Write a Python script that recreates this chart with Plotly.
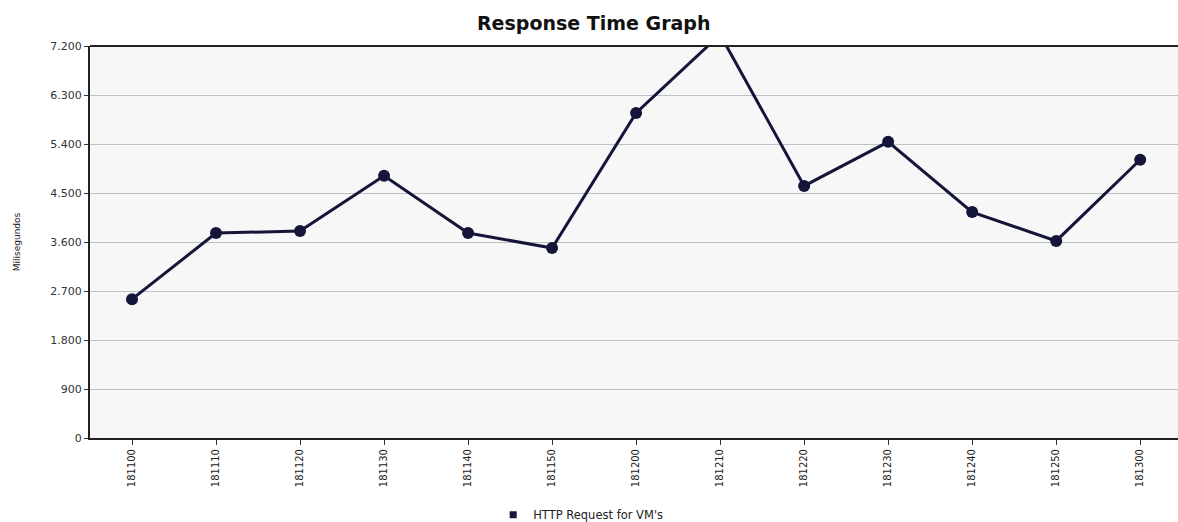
import plotly.graph_objects as go

categories = ["181100", "181110", "181120", "181130", "181140", "181150", "181200",
              "181210", "181220", "181230", "181240", "181250", "181300"]
response_ms = [2550, 3765, 3800, 4815, 3765, 3490, 5970, 7410, 4630, 5440, 4150, 3620, 5110]
y_tick_vals = [0, 900, 1800, 2700, 3600, 4500, 5400, 6300, 7200]
y_tick_labels = ["0", "900", "1.800", "2.700", "3.600", "4.500", "5.400", "6.300", "7.200"]
series_name = "HTTP Request for VM's"

line_color = "#15153a"

fig = go.Figure()
fig.add_trace(go.Scatter(
    x=categories, y=response_ms, mode="lines+markers",
    line=dict(color=line_color, width=3),
    marker=dict(color=line_color, size=12),
    showlegend=False, cliponaxis=True,
))
fig.add_trace(go.Scatter(
    x=[None], y=[None], mode="markers", name=series_name,
    marker=dict(color=line_color, size=7, symbol="square"),
    showlegend=True,
))

fig.update_layout(
    width=1178, height=522,
    margin=dict(l=90, r=0, t=46, b=84, autoexpand=False),
    paper_bgcolor="white",
    plot_bgcolor="#f7f7f7",
    font=dict(family="DejaVu Sans", color="#333333"),
    title=dict(text="<b>Response Time Graph</b>", x=0.504, xanchor="center",
               xref="container", yref="container", y=1, yanchor="top",
               pad=dict(t=17),
               font=dict(family="DejaVu Sans", size=19, color="#111111")),
    legend=dict(orientation="h", x=0.451, xanchor="center", y=-0.196, yanchor="middle",
                font=dict(size=11.5, color="#222222"), itemwidth=30,
                bgcolor="rgba(0,0,0,0)"),
    xaxis=dict(
        type="category", range=[-0.5, 12.45], automargin=False,
        showgrid=False, showline=True, linecolor="#222222", linewidth=2,
        ticks="outside", ticklen=5, tickcolor="#333333", tickwidth=1,
        tickangle=-90, tickfont=dict(size=10, color="#222222"),
        zeroline=False,
    ),
    yaxis=dict(
        range=[0, 7200], tickvals=y_tick_vals, ticktext=y_tick_labels, automargin=False,
        showgrid=True, gridcolor="#b8c4c4", gridwidth=1,
        showline=True, linecolor="#222222", linewidth=2,
        ticks="outside", ticklen=4, tickcolor="#333333",
        tickfont=dict(size=11, color="#333333"),
        zeroline=False,
        title=dict(text="Milisegundos", font=dict(size=9, color="#222222"), standoff=28),
    ),
    shapes=[dict(type="line", xref="paper", yref="paper", x0=0, x1=1, y0=1, y1=1,
                 line=dict(color="#222222", width=2))],
)

fig.write_html(
    "out.html",
    config={"displayModeBar": False},
    post_script="document.body.style.margin='0';document.body.style.overflow='hidden';",
)
